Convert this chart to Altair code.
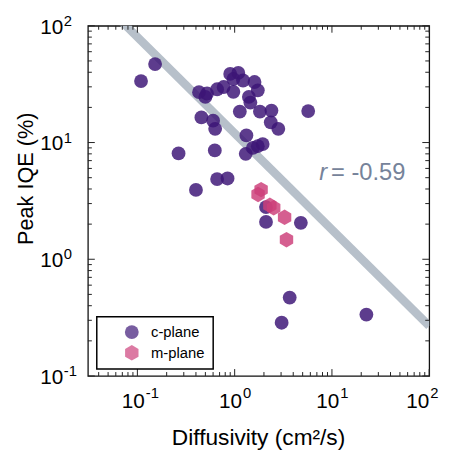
import altair as alt
import pandas as pd
import numpy as np

# ---- data ----
c_plane_D = [0.152, 0.109, 0.90, 1.09, 0.97, 1.22, 1.60, 1.73, 0.43, 0.52,
             0.66, 0.77, 0.97, 0.50, 1.40, 1.45, 1.13, 1.82, 2.39, 5.70,
             0.455, 0.60, 0.63, 2.35, 2.81, 1.32, 0.265, 0.625, 1.30, 1.54,
             1.73, 1.94, 0.66, 0.845, 0.40, 2.10, 4.79, 3.68, 3.04, 22.6, 2.10]
c_plane_IQE = [47.0, 33.6, 38.7, 39.5, 35.0, 34.0, 33.0, 28.0, 27.0, 26.3,
               28.6, 29.9, 27.2, 24.6, 24.6, 22.0, 18.4, 18.4, 18.8, 18.6,
               16.4, 15.4, 13.1, 14.9, 13.1, 11.5, 8.07, 8.56, 8.0, 9.0,
               9.3, 9.7, 4.86, 4.92, 3.93, 2.09, 2.05, 0.47, 0.286, 0.336, 2.8]
m_plane_D = [1.87, 1.74, 2.30, 2.52, 3.26, 3.41]
m_plane_IQE = [3.95, 3.59, 2.90, 2.76, 2.29, 1.47]

fit_slope = -0.825        # log-log slope of the guide line
fit_log_intercept = 1.079  # log10(IQE) at D = 1
fit_D = [0.031, 100.0]
r_label = "-0.59"

x_title = "Diffusivity (cm²/s)"
y_title = "Peak IQE (%)"

decades = [0.1, 1, 10, 100]
exponents = ["-1", "0", "1", "2"]
minor_mult = [2, 3, 4, 5, 6, 7, 8, 9]

# ---- tables ----
pts = pd.DataFrame({
    "D": c_plane_D + m_plane_D,
    "IQE": c_plane_IQE + m_plane_IQE,
    "plane": ["c-plane"] * len(c_plane_D) + ["m-plane"] * len(m_plane_D),
})
fit = pd.DataFrame({"D": fit_D})
fit["IQE"] = 10 ** (fit_log_intercept + fit_slope * np.log10(fit["D"]))

lab = pd.DataFrame({"v": decades, "base": ["10"] * 4, "exp": exponents})
major = pd.DataFrame({"v": decades})
minor_vals = [m * d for d in [0.01] + decades for m in minor_mult]
minor = pd.DataFrame({"v": minor_vals})
xminor = minor[(minor.v > 0.031) & (minor.v < 100)]
yminor = minor[(minor.v > 0.1) & (minor.v < 100)]
note = pd.DataFrame({"D": [7.4], "IQE": [4.8], "r": ["r"], "t": ["= " + r_label]})
titles = pd.DataFrame({"xt": [x_title], "yt": [y_title]})

W, H = 346, 355
FONT = "Liberation Sans"
xs = alt.Scale(type="log", domain=[0.031, 100], nice=False)
ys = alt.Scale(type="log", domain=[0.1, 100], nice=False)

PURPLE = "#3c1476"
PINK = "#cc3f7a"
HEX = "M0,-1.12L0.97,-0.56L0.97,0.56L0,1.12L-0.97,0.56L-0.97,-0.56Z"

line = alt.Chart(fit).mark_line(color="#b7c0ca", strokeWidth=8.5, clip=True).encode(
    x=alt.X("D:Q", scale=xs, axis=None), y=alt.Y("IQE:Q", scale=ys, axis=None))

points = alt.Chart(pts).mark_point(filled=True, size=196, opacity=0.83, strokeWidth=0).encode(
    x=alt.X("D:Q", scale=xs, axis=None),
    y=alt.Y("IQE:Q", scale=ys, axis=None),
    color=alt.Color("plane:N", scale=alt.Scale(domain=["c-plane", "m-plane"], range=[PURPLE, PINK]),
                    legend=alt.Legend(title=None, orient="none", legendX=9, legendY=295,
                                      direction="vertical", strokeColor="black", fillColor="white",
                                      padding=8, symbolOffset=20, labelFontSize=15, labelFont=FONT,
                                      labelColor="black", symbolSize=196, labelOffset=12,
                                      rowPadding=4, symbolStrokeWidth=0, cornerRadius=0,
                                      symbolOpacity=0.83)),
    shape=alt.Shape("plane:N", scale=alt.Scale(domain=["c-plane", "m-plane"], range=["circle", HEX]),
                    legend=alt.Legend(title=None, orient="none", legendX=9, legendY=295)),
    order=alt.Order("plane:N"),
)

TICK = "#222222"

def xticks(df, length):
    b = alt.Chart(df).mark_rule(color=TICK, strokeWidth=1).encode(
        x=alt.X("v:Q", scale=xs, axis=None), y=alt.value(H), y2=alt.value(H - length))
    t = alt.Chart(df).mark_rule(color=TICK, strokeWidth=1).encode(
        x=alt.X("v:Q", scale=xs, axis=None), y=alt.value(0), y2=alt.value(length))
    return [b, t]

def yticks(df, length):
    l = alt.Chart(df).mark_rule(color=TICK, strokeWidth=1).encode(
        y=alt.Y("v:Q", scale=ys, axis=None), x=alt.value(0), x2=alt.value(length))
    r = alt.Chart(df).mark_rule(color=TICK, strokeWidth=1).encode(
        y=alt.Y("v:Q", scale=ys, axis=None), x=alt.value(W), x2=alt.value(W - length))
    return [l, r]

ticks = (xticks(major[major.v > 0.031], 7) + xticks(xminor, 4)
         + yticks(major, 7) + yticks(yminor, 4))

xl_main = alt.Chart(lab).transform_filter("datum.v < 100").mark_text(
    align="right", baseline="alphabetic", font=FONT, fontSize=21, dx=7.5, color="black").encode(
    x=alt.X("v:Q", scale=xs, axis=None), y=alt.value(H + 32), text="base:N")
xl_exp = alt.Chart(lab).transform_filter("datum.v < 100").mark_text(
    align="left", baseline="alphabetic", font=FONT, fontSize=15, dx=8.5, color="black").encode(
    x=alt.X("v:Q", scale=xs, axis=None), y=alt.value(H + 22), text="exp:N")
xl_main2 = alt.Chart(lab).transform_filter("datum.v >= 100").mark_text(
    align="right", baseline="alphabetic", font=FONT, fontSize=21, dx=0, color="black").encode(
    x=alt.X("v:Q", scale=xs, axis=None), y=alt.value(H + 32), text="base:N")
xl_exp2 = alt.Chart(lab).transform_filter("datum.v >= 100").mark_text(
    align="left", baseline="alphabetic", font=FONT, fontSize=15, dx=1, color="black").encode(
    x=alt.X("v:Q", scale=xs, axis=None), y=alt.value(H + 22), text="exp:N")

yl_main = alt.Chart(lab).mark_text(
    align="right", baseline="alphabetic", font=FONT, fontSize=21, dy=8, color="black").encode(
    y=alt.Y("v:Q", scale=ys, axis=None), x=alt.value(-25), text="base:N")
yl_exp = alt.Chart(lab).mark_text(
    align="left", baseline="alphabetic", font=FONT, fontSize=15, dy=0, color="black").encode(
    y=alt.Y("v:Q", scale=ys, axis=None), x=alt.value(-24.5), text="exp:N")

xt = alt.Chart(titles).mark_text(align="center", baseline="alphabetic", font=FONT, fontSize=23,
                                 color="black").encode(
    x=alt.value(W / 2), y=alt.value(H + 70), text="xt:N")
yt = alt.Chart(titles).mark_text(align="center", baseline="alphabetic", font=FONT, fontSize=22,
                                 angle=270, color="black").encode(
    x=alt.value(-56), y=alt.value(155), text="yt:N")

note_r = alt.Chart(note).mark_text(align="left", baseline="alphabetic", font=FONT, fontSize=24,
                                   fontStyle="italic", color="#76839a").encode(
    x=alt.X("D:Q", scale=xs, axis=None), y=alt.Y("IQE:Q", scale=ys, axis=None), text="r:N")
note_t = alt.Chart(note).mark_text(align="left", baseline="alphabetic", font=FONT, fontSize=24,
                                   dx=12, color="#76839a").encode(
    x=alt.X("D:Q", scale=xs, axis=None), y=alt.Y("IQE:Q", scale=ys, axis=None), text="t:N")

chart = alt.layer(line, points, *ticks, xl_main, xl_exp, xl_main2, xl_exp2, yl_main, yl_exp,
                  xt, yt, note_r, note_t).properties(
    width=W, height=H,
    autosize=alt.AutoSizeParams(type="none"),
    padding={"left": 81, "top": 15, "right": 16, "bottom": 74},
).configure_view(stroke="#111111", strokeWidth=1.3).configure_legend(strokeWidth=1.5)

chart.save("out.html", embed_options={"renderer": "svg", "actions": False})
